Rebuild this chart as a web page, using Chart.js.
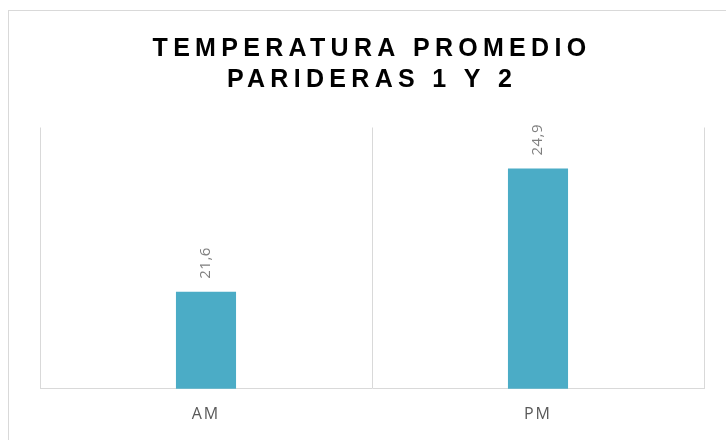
<!DOCTYPE html>
<html>
<head>
<meta charset="utf-8">
<script src="https://cdn.jsdelivr.net/npm/chart.js@4/dist/chart.umd.min.js"></script>
<style>
  html, body { margin: 0; padding: 0; background: #fff; }
  #wrap { position: relative; width: 726px; height: 440px; overflow: hidden; }
  #frame { position: absolute; left: 8px; top: 10px; width: 760px; height: 480px; border: 1px solid #d9d9d9; box-sizing: border-box; }
  canvas { position: absolute; left: 0; top: 0; }
</style>
</head>
<body>
<div id="wrap">
  <div id="frame"></div>
  <canvas id="c" width="726" height="440"></canvas>
</div>
<script>
const titleLines = ["TEMPERATURA PROMEDIO", "PARIDERAS 1 Y 2"];
const categories = ["AM", "PM"];
const temperatures = [21.6, 24.9];
const yMin = 19;
const yMax = 26;

const spacingPlugin = {
  id: 'spacing',
  beforeDraw(chart) { chart.ctx.letterSpacing = '2px'; },
  afterDraw(chart) { chart.ctx.letterSpacing = '0px'; }
};

const titleSpacing = {
  id: 'titleSpacing',
  beforeDraw(chart) {
    const t = chart.titleBlock;
    if (t && !t._wrapped) {
      const orig = t.draw.bind(t);
      t.draw = function () {
        const ctx = chart.ctx;
        const prev = ctx.letterSpacing;
        ctx.letterSpacing = '5.3px';
        orig();
        ctx.letterSpacing = prev;
      };
      t._wrapped = true;
    }
  }
};

const valueLabels = {
  id: 'valueLabels',
  afterDatasetsDraw(chart) {
    const ctx = chart.ctx;
    const meta = chart.getDatasetMeta(0);
    ctx.save();
    ctx.letterSpacing = '0.5px';
    ctx.fillStyle = '#7f7f7f';
    ctx.font = '15px "Open Sans", sans-serif';
    ctx.textAlign = 'left';
    ctx.textBaseline = 'middle';
    meta.data.forEach((bar, i) => {
      const v = chart.data.datasets[0].data[i];
      const txt = v.toFixed(1).replace('.', ',');
      ctx.save();
      ctx.translate(bar.x, bar.y - 13);
      ctx.rotate(-Math.PI / 2);
      ctx.fillText(txt, 0, 0);
      ctx.restore();
    });
    ctx.restore();
  }
};

new Chart(document.getElementById('c'), {
  type: 'bar',
  data: {
    labels: categories,
    datasets: [{
      data: temperatures,
      backgroundColor: '#4BACC6',
      borderWidth: 0,
      barPercentage: 1,
      categoryPercentage: 0.181
    }]
  },
  options: {
    responsive: false,
    animation: false,
    layout: { padding: { top: 33, left: 40, right: 22, bottom: 0 } },
    plugins: {
      legend: { display: false },
      tooltip: { enabled: false },
      title: {
        display: true,
        text: titleLines,
        color: '#000',
        font: { family: '"Liberation Sans", Arial, sans-serif', size: 25, weight: 'bold', lineHeight: 1.25 },
        padding: { top: 0, bottom: 32 }
      }
    },
    scales: {
      x: {
        grid: { display: true, color: '#d9d9d9', drawTicks: false, offset: true },
        border: { display: true, color: '#d9d9d9' },
        ticks: { color: '#595959', font: { family: '"Open Sans", sans-serif', size: 16 }, padding: 16 }
      },
      y: {
        display: false,
        min: yMin,
        max: yMax
      }
    }
  },
  plugins: [spacingPlugin, titleSpacing, valueLabels]
});
</script>
</body>
</html>
